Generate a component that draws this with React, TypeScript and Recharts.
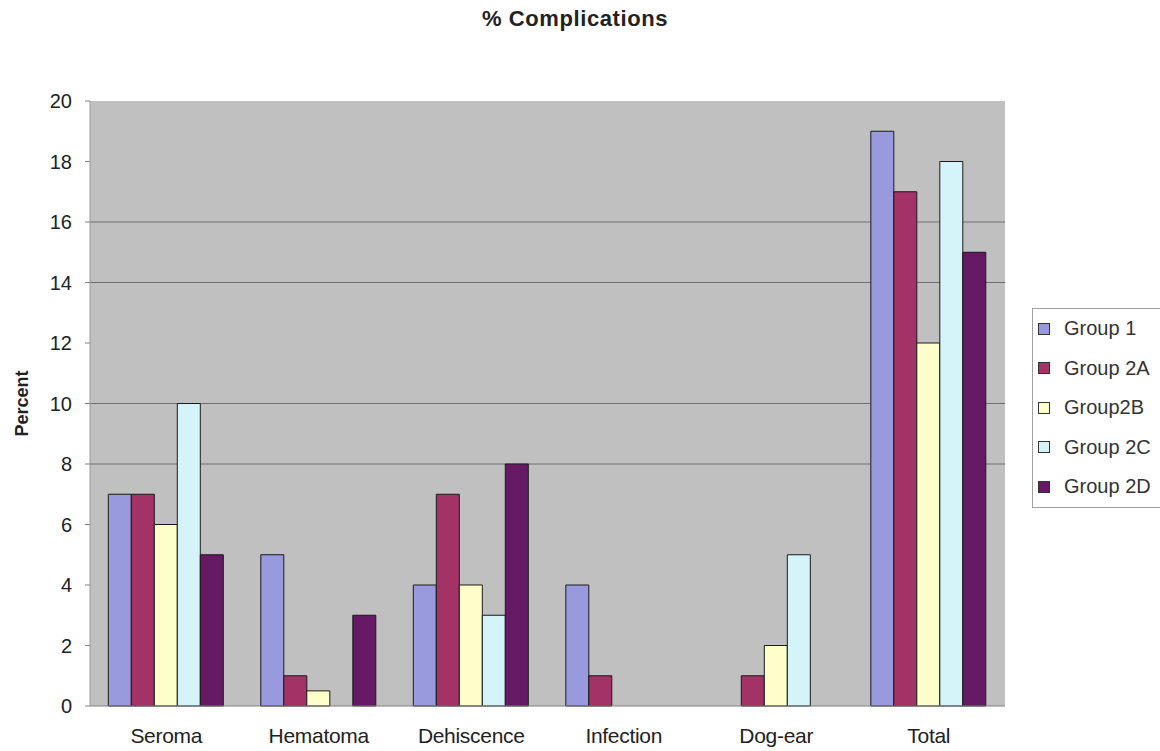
import React from 'react';
import { BarChart, Bar, XAxis, YAxis, CartesianGrid, Legend } from 'recharts';

const categories = ['Seroma', 'Hematoma', 'Dehiscence', 'Infection', 'Dog-ear', 'Total'];
const group1 = [7, 5, 4, 4, 0, 19];
const group2A = [7, 1, 7, 1, 1, 17];
const group2B = [6, 0.5, 4, 0, 2, 12];
const group2C = [10, 0, 3, 0, 5, 18];
const group2D = [5, 3, 8, 0, 0, 15];
const yTicks = [0, 2, 4, 6, 8, 10, 12, 14, 16, 18, 20];
const gridLines = [8, 10, 14, 16];

const series = [
  { key: 'g1', name: 'Group 1', values: group1, color: '#9999dd' },
  { key: 'g2a', name: 'Group 2A', values: group2A, color: '#a33366' },
  { key: 'g2b', name: 'Group2B', values: group2B, color: '#ffffcc' },
  { key: 'g2c', name: 'Group 2C', values: group2C, color: '#d4f4fa' },
  { key: 'g2d', name: 'Group 2D', values: group2D, color: '#661a66' },
];

const data = categories.map((name, i) => {
  const row: Record<string, string | number> = { name };
  series.forEach((s) => {
    row[s.key] = s.values[i];
  });
  return row;
});

const FONT = '"Liberation Sans", Arial, sans-serif';

// legend keeps the series order (recharts would sort it by name)
const LegendBox = () => (
  <div
    style={{
      width: 128,
      height: 200,
      border: '1px solid #a0a0a0',
      borderRight: 'none',
      background: '#fff',
      boxSizing: 'border-box',
      fontFamily: FONT,
      fontSize: 20,
      color: '#333',
      whiteSpace: 'nowrap',
    }}
  >
    {series.map((s) => (
      <div key={s.key} style={{ display: 'flex', alignItems: 'center', height: 39.5, paddingLeft: 5 }}>
        <span
          style={{
            display: 'inline-block',
            width: 10,
            height: 10,
            background: s.color,
            border: '1px solid #333',
            marginRight: 14,
            flexShrink: 0,
          }}
        />
        {s.name}
      </div>
    ))}
  </div>
);

const PercentLabel = (props: any) => {
  const vb = props.viewBox || {};
  const x = 22;
  const y = vb.y + vb.height / 2;
  return (
    <text
      x={x}
      y={y}
      transform={`rotate(-90, ${x}, ${y})`}
      textAnchor="middle"
      dominantBaseline="central"
      fontFamily={FONT}
      fontSize={18}
      fontWeight="bold"
      fill="#222"
    >
      Percent
    </text>
  );
};

export default function App() {
  return (
    <div style={{ position: 'absolute', left: 0, top: 0, width: 1160, height: 751, background: '#fff' }}>
      <div
        style={{
          position: 'absolute',
          top: 6,
          left: 0,
          width: 1150,
          textAlign: 'center',
          fontFamily: FONT,
          fontWeight: 'bold',
          fontSize: 22,
          letterSpacing: 0.6,
          color: '#222',
        }}
      >
        % Complications
      </div>
      <BarChart
        width={1160}
        height={751}
        data={data}
        margin={{ top: 101, right: 155, bottom: 15, left: 0 }}
        barCategoryGap="12%"
        barGap={0}
      >
        <CartesianGrid
          fill="#c0c0c0"
          stroke="#6e6e6e"
          vertical={false}
          horizontalValues={gridLines}
        />
        <XAxis
          dataKey="name"
          height={30}
          tickLine={false}
          tickSize={0}
          axisLine={{ stroke: '#808080' }}
          tickMargin={22}
          tick={{ fontFamily: FONT, fontSize: 21, fill: '#222', letterSpacing: -0.3 }}
          interval={0}
        />
        <YAxis
          width={90}
          domain={[0, 20]}
          ticks={yTicks}
          interval={0}
          tickSize={5}
          tickMargin={13}
          tickLine={{ stroke: '#808080' }}
          axisLine={{ stroke: '#9a9a9a' }}
          tick={{ fontFamily: FONT, fontSize: 20, fill: '#222' }}
          label={{ content: PercentLabel }}
        />
        <Legend
          layout="vertical"
          align="center"
          verticalAlign="middle"
          content={LegendBox}
          wrapperStyle={{ position: 'absolute', left: 1032, top: 308, width: 128, height: 200 }}
        />
        {series.map((s) => (
          <Bar
            key={s.key}
            dataKey={s.key}
            name={s.name}
            fill={s.color}
            stroke="#1a1a1a"
            strokeWidth={1}
            isAnimationActive={false}
          />
        ))}
      </BarChart>
    </div>
  );
}
